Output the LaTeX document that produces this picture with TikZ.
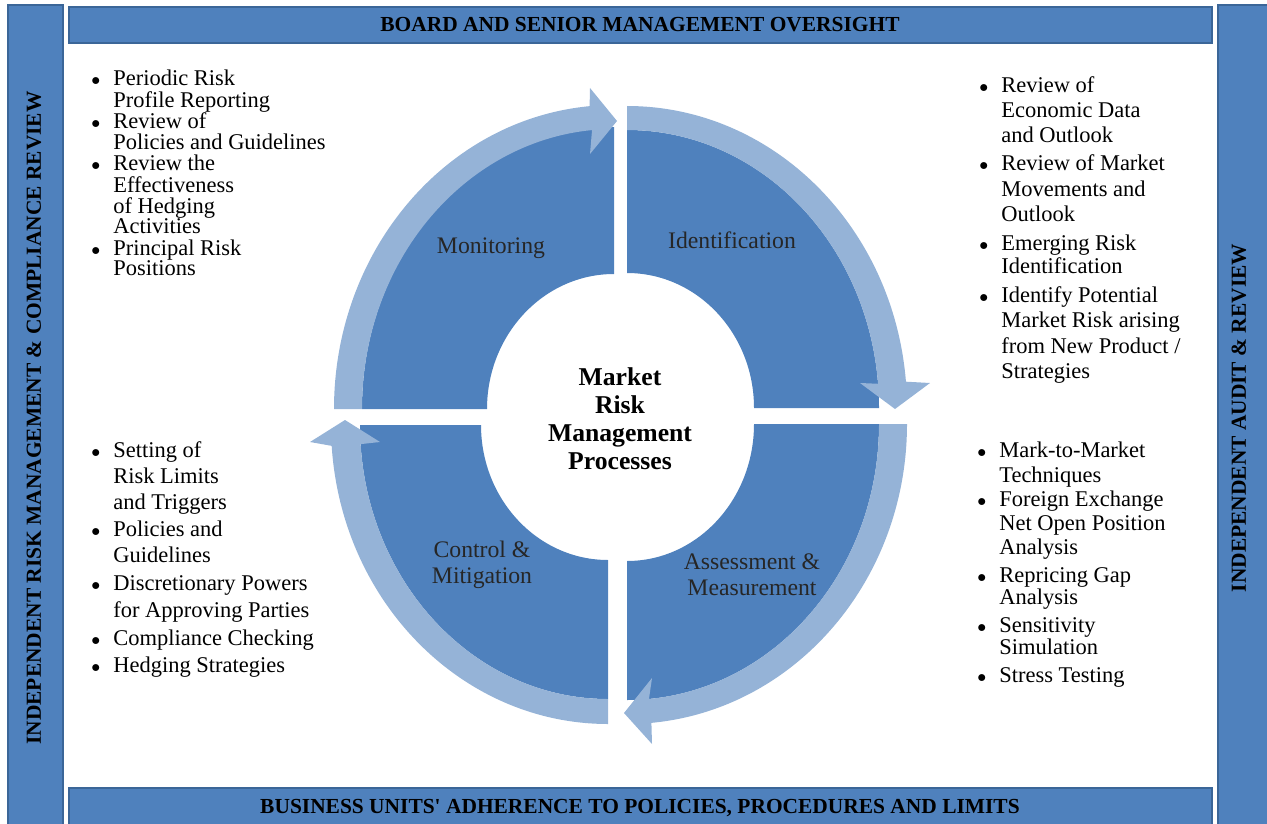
\documentclass[tikz,border=0pt]{standalone}
\usepackage{fontspec}
\setmainfont{Liberation Serif}[Ligatures=TeXOff]

\definecolor{quadblue}{HTML}{4F81BD}
\definecolor{arrowblue}{HTML}{95B3D7}
\definecolor{barline}{HTML}{3B6698}

\newcommand{\bulitem}{\makebox[12.5pt][l]{\scalebox{0.85}{$\bullet$}}}
\newcommand{\bulcont}{\hspace*{12.5pt}}

\tikzset{
    bar/.style={fill=quadblue, draw=barline, line width=0.6pt},
    bartext/.style={font=\fontsize{12.2}{14}\selectfont\bfseries, inner sep=0},
    quad/.style={fill=quadblue},
    cyclearrow/.style={fill=arrowblue},
    steplabel/.style={font=\fontsize{13.5}{14.7}\selectfont, text=black!85, align=center, inner sep=0},
    bulletlist/.style={font=\fontsize{12.8}{#1}\selectfont, align=left, anchor=north west, inner sep=0},
}

\begin{document}
\begin{tikzpicture}[x=0.02cm, y=0.02cm]
    \useasboundingbox (0,0) rectangle (1267,823);
    \clip (0,0) rectangle (1267,823);

    % Frame bars
    \draw[bar] (8,-5) rectangle (63,818);
    \draw[bar] (1218,-5) rectangle (1280,818);
    \draw[bar] (69,780) rectangle (1212,816);
    \draw[bar] (69,-5) rectangle (1212,35);

    \node[bartext] (board) at (640,798) {BOARD AND SENIOR MANAGEMENT OVERSIGHT};
    \node[bartext] (units) at (640,15) {BUSINESS UNITS' ADHERENCE TO POLICIES, PROCEDURES AND LIMITS};
    \node[bartext, rotate=90] (riskreview) at (34,405) {INDEPENDENT RISK MANAGEMENT \& COMPLIANCE REVIEW};
    \node[bartext, rotate=90] (audit) at (1239,405) {INDEPENDENT AUDIT \& REVIEW};

    % Monitoring
    \begin{scope}[shift={(614,414)}]
        \fill[quad] (90:252 and 282) arc[start angle=90, end angle=180, x radius=252, y radius=282] -- (180:127 and 135) arc[start angle=180, end angle=90, x radius=127, y radius=135] -- cycle;
        \fill[cyclearrow] (180:280 and 304) arc[start angle=180, end angle=95, x radius=280, y radius=304] -- (-24,321) -- (3,288) -- (-24,255) -- (95:252 and 280) arc[start angle=95, end angle=180, x radius=252, y radius=280] -- cycle;
    \end{scope}

    % Identification
    \begin{scope}[shift={(627,415)}]
        \fill[quad] (0:252 and 278) arc[start angle=0, end angle=90, x radius=252, y radius=278] -- (90:127 and 135) arc[start angle=90, end angle=0, x radius=127, y radius=135] -- cycle;
        \fill[cyclearrow] (90:280 and 302) arc[start angle=90, end angle=5, x radius=280, y radius=302] -- (303,25) -- (268,-1) -- (233,25) -- (5:252 and 278) arc[start angle=5, end angle=90, x radius=252, y radius=278] -- cycle;
    \end{scope}

    % Assessment & Measurement
    \begin{scope}[shift={(627,399)}]
        \fill[quad] (270:252 and 276) arc[start angle=270, end angle=360, x radius=252, y radius=276] -- (0:127 and 137) arc[start angle=360, end angle=270, x radius=127, y radius=137] -- cycle;
        \fill[cyclearrow] (360:280 and 300) arc[start angle=360, end angle=275, x radius=280, y radius=300] -- (25,-320) -- (-3,-289) -- (25,-254) -- (275:252 and 276) arc[start angle=275, end angle=360, x radius=252, y radius=276] -- cycle;
    \end{scope}

    % Control & Mitigation
    \begin{scope}[shift={(608,398)}]
        \fill[quad] (180:248 and 274) arc[start angle=180, end angle=270, x radius=248, y radius=274] -- (270:127 and 135) arc[start angle=270, end angle=180, x radius=127, y radius=135] -- cycle;
        \fill[cyclearrow] (270:277 and 299) arc[start angle=270, end angle=184, x radius=277, y radius=299] -- (-298,-17) -- (-263,5) -- (-228,-17) -- (184:248 and 274) arc[start angle=184, end angle=270, x radius=248, y radius=274] -- cycle;
    \end{scope}

    \node[steplabel] (monitoring) at (491,575) {Monitoring};
    \node[steplabel] (identification) at (732,583) {Identification};
    \node[steplabel] (assessment) at (752,248) {Assessment \&\\Measurement};
    \node[steplabel] (control) at (482,258) {Control \&\\Mitigation};
    \node[font=\fontsize{14.6}{15.9}\selectfont\bfseries, align=center, inner sep=0] (processes) at (620,404) {Market\\Risk\\Management\\Processes};

    % Activity lists
    \node[bulletlist=12.1] (monitorlist) at (91,753) {%
        \bulitem Periodic Risk\\ \bulcont Profile Reporting\\
        \bulitem Review of\\ \bulcont Policies and Guidelines\\
        \bulitem Review the\\ \bulcont Effectiveness\\ \bulcont of Hedging\\[-0.5pt] \bulcont Activities\\
        \bulitem Principal Risk\\[-0.6pt] \bulcont Positions};
    \node[bulletlist=14.4] (identlist) at (979,747) {%
        \bulitem Review of\\ \bulcont Economic Data\\ \bulcont and Outlook\\[1.5pt]
        \bulitem Review of Market\\ \bulcont Movements and\\ \bulcont Outlook\\[2pt]
        \bulitem Emerging Risk\\[-1pt] \bulcont Identification\\[2pt]
        \bulitem Identify Potential\\ \bulcont Market Risk arising\\ \bulcont from New Product /\\ \bulcont Strategies};
    \node[bulletlist=15] (controllist) at (91,382) {%
        \bulitem Setting of\\ \bulcont Risk Limits\\ \bulcont and Triggers\\
        \bulitem Policies and\\ \bulcont Guidelines\\[1pt]
        \bulitem Discretionary Powers\\ \bulcont for Approving Parties\\[1pt]
        \bulitem Compliance Checking\\[0.6pt]
        \bulitem Hedging Strategies};
    \node[bulletlist=13.8] (assesslist) at (977,381) {%
        \bulitem Mark-to-Market\\ \bulcont Techniques\\
        \bulitem Foreign Exchange\\ \bulcont Net Open Position\\ \bulcont Analysis\\[2pt]
        \bulitem Repricing Gap\\[-1.2pt] \bulcont Analysis\\[2pt]
        \bulitem Sensitivity\\[-1.2pt] \bulcont Simulation\\[2pt]
        \bulitem Stress Testing};
\end{tikzpicture}
\end{document}
